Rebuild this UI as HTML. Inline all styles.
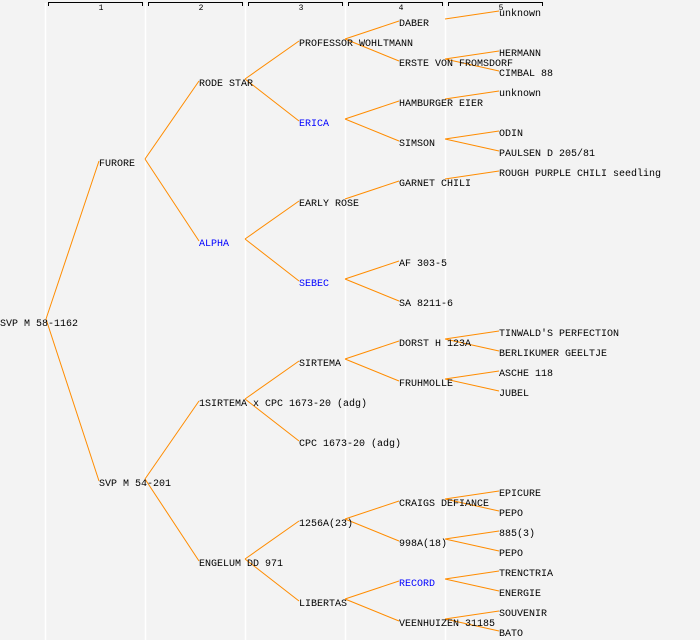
<!DOCTYPE html>
<html><head><meta charset="utf-8"><style>
html,body{margin:0;padding:0;background:#f3f3f3;}
svg{display:block;}
text{font-family:"Liberation Mono",monospace;font-size:10px;fill:#000;}
text.b{fill:#0000ff;}
text.h{font-size:8px;text-anchor:middle;}
</style></head><body>
<svg width="700" height="640" xmlns="http://www.w3.org/2000/svg">
<rect width="700" height="640" fill="#f3f3f3"/>
<g stroke="#ffffff" stroke-width="1.5">
<line x1="45.5" y1="3" x2="45.5" y2="640"/><line x1="145.5" y1="3" x2="145.5" y2="640"/><line x1="245.5" y1="3" x2="245.5" y2="640"/><line x1="345.5" y1="3" x2="345.5" y2="640"/><line x1="445.5" y1="3" x2="445.5" y2="640"/>
</g>
<g stroke="#000" stroke-width="1" fill="none">
<path d="M48.5,6V2.5H142.5V6"/><path d="M148.5,6V2.5H242.5V6"/><path d="M248.5,6V2.5H342.5V6"/><path d="M348.5,6V2.5H442.5V6"/><path d="M448.5,6V2.5H542.5V6"/>
</g>
<text class="h" x="101" y="10">1</text><text class="h" x="201" y="10">2</text><text class="h" x="301" y="10">3</text><text class="h" x="401" y="10">4</text><text class="h" x="501" y="10">5</text>
<path fill="none" stroke="#ff8c00" stroke-width="1" d="
M46,319L99,161 M46,319L99,481
M145,159L199,81 M145,159L199,241 M145,479L199,401 M145,479L199,561
M245,79L299,41 M245,79L299,121 M245,239L299,201 M245,239L299,281
M245,399L299,361 M245,399L299,441 M245,559L299,521 M245,559L299,601
M345,39L399,21 M345,39L399,61 M345,119L399,101 M345,119L399,141
M345,199L399,181 M345,279L399,261 M345,279L399,301
M345,359L399,341 M345,359L399,381 M345,519L399,501 M345,519L399,541
M345,599L399,581 M345,599L399,621
M445,19L499,11 M445,59L499,51 M445,59L499,71 M445,99L499,91
M445,139L499,131 M445,139L499,151 M445,179L499,171
M445,339L499,331 M445,339L499,351 M445,379L499,371 M445,379L499,391
M445,499L499,491 M445,499L499,511 M445,539L499,531 M445,539L499,551
M445,579L499,571 M445,579L499,591 M445,619L499,611 M445,619L499,631"/>
<text x="0" y="326">SVP M 58-1162</text>
<text x="99" y="166">FURORE</text>
<text x="99" y="486">SVP M 54-201</text>
<text x="199" y="86">RODE STAR</text>
<text class="b" x="199" y="246">ALPHA</text>
<text x="199" y="406">1SIRTEMA x CPC 1673-20 (adg)</text>
<text x="199" y="566">ENGELUM DD 971</text>
<text x="299" y="46">PROFESSOR WOHLTMANN</text>
<text class="b" x="299" y="126">ERICA</text>
<text x="299" y="206">EARLY ROSE</text>
<text class="b" x="299" y="286">SEBEC</text>
<text x="299" y="366">SIRTEMA</text>
<text x="299" y="446">CPC 1673-20 (adg)</text>
<text x="299" y="526">1256A(23)</text>
<text x="299" y="606">LIBERTAS</text>
<text x="399" y="26">DABER</text>
<text x="399" y="66">ERSTE VON FROMSDORF</text>
<text x="399" y="106">HAMBURGER EIER</text>
<text x="399" y="146">SIMSON</text>
<text x="399" y="186">GARNET CHILI</text>
<text x="399" y="266">AF 303-5</text>
<text x="399" y="306">SA 8211-6</text>
<text x="399" y="346">DORST H 123A</text>
<text x="399" y="386">FRUHMOLLE</text>
<text x="399" y="506">CRAIGS DEFIANCE</text>
<text x="399" y="546">998A(18)</text>
<text class="b" x="399" y="586">RECORD</text>
<text x="399" y="626">VEENHUIZEN 31185</text>
<text x="499" y="16">unknown</text>
<text x="499" y="56">HERMANN</text>
<text x="499" y="76">CIMBAL 88</text>
<text x="499" y="96">unknown</text>
<text x="499" y="136">ODIN</text>
<text x="499" y="156">PAULSEN D 205/81</text>
<text x="499" y="176">ROUGH PURPLE CHILI seedling</text>
<text x="499" y="336">TINWALD'S PERFECTION</text>
<text x="499" y="356">BERLIKUMER GEELTJE</text>
<text x="499" y="376">ASCHE 118</text>
<text x="499" y="396">JUBEL</text>
<text x="499" y="496">EPICURE</text>
<text x="499" y="516">PEPO</text>
<text x="499" y="536">885(3)</text>
<text x="499" y="556">PEPO</text>
<text x="499" y="576">TRENCTRIA</text>
<text x="499" y="596">ENERGIE</text>
<text x="499" y="616">SOUVENIR</text>
<text x="499" y="636">BATO</text>
</svg>
</body></html>
